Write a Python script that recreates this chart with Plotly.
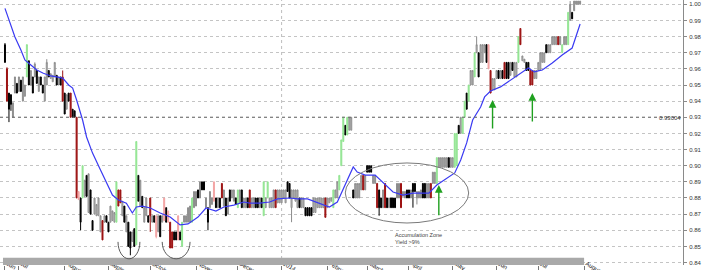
import pandas as pd
import plotly.graph_objects as go

# ---- data ----
# bar colour codes: k black, g grey, G green, r dark red, p pale red
colors = (
    "k r k k g g k g k g "
    "g G k g k g k g k k "
    "g g k g g g k g k r "
    "k g k r k k r p k G "
    "g k g k k g g g g r "
    "g k k g g g G r r g "
    "k g k k g k G k g k "
    "g g k r g k p g k g "
    "p k p r r k k p k G "
    "g g g g G g g k g k "
    "k g k g g p k g k r "
    "g k g k g g k G g k "
    "g g k r g g k k g k "
    "G g G g g g r g g g "
    "g g k k g g g g k g "
    "g k k k k g g g g g "
    "g r g g g G g g G G "
    "G k G g g k g g g g "
    "r g k k k g g r k k "
    "g r k g k k k g g r "
    "g g k k g k k g g g "
    "k k g g r g g G g g "
    "g g g k g g G G k g "
    "G G k G g g G g k g "
    "g g k p r g g g k g "
    "k r k k g k g g G r "
    "g g k k r r g g g g "
    "g g k g g g g g r g "
    "G g g G g k g g g g"
).split()

opens = [0.975, 0.960, 0.945, 0.944, 0.930, 0.945, 0.951, 0.946, 0.953, 0.940,
         0.943, 0.955, 0.965, 0.950, 0.955, 0.955, 0.959, 0.946, 0.955, 0.950,
         0.940, 0.950, 0.959, 0.954, 0.952, 0.955, 0.956, 0.950, 0.955, 0.955,
         0.945, 0.935, 0.945, 0.945, 0.935, 0.934, 0.930, 0.884, 0.880, 0.880,
         0.881, 0.894, 0.871, 0.885, 0.866, 0.870, 0.869, 0.869, 0.859, 0.866,
         0.865, 0.869, 0.865, 0.865, 0.866, 0.865, 0.865, 0.885, 0.885, 0.869,
         0.875, 0.859, 0.865, 0.859, 0.853, 0.861, 0.851, 0.894, 0.875, 0.881,
         0.865, 0.869, 0.869, 0.880, 0.865, 0.869, 0.869, 0.859, 0.869, 0.865,
         0.880, 0.874, 0.872, 0.865, 0.859, 0.859, 0.859, 0.869, 0.859, 0.850,
         0.865, 0.865, 0.865, 0.865, 0.865, 0.874, 0.875, 0.885, 0.880, 0.890,
         0.890, 0.874, 0.874, 0.874, 0.876, 0.890, 0.880, 0.874, 0.880, 0.889,
         0.875, 0.880, 0.870, 0.885, 0.880, 0.878, 0.880, 0.874, 0.877, 0.885,
         0.874, 0.874, 0.880, 0.885, 0.874, 0.874, 0.880, 0.880, 0.874, 0.880,
         0.869, 0.874, 0.880, 0.874, 0.874, 0.874, 0.885, 0.877, 0.877, 0.877,
         0.880, 0.877, 0.890, 0.889, 0.874, 0.880, 0.878, 0.874, 0.880, 0.874,
         0.874, 0.874, 0.874, 0.874, 0.874, 0.871, 0.871, 0.874, 0.874, 0.874,
         0.874, 0.880, 0.874, 0.877, 0.878, 0.874, 0.880, 0.880, 0.885, 0.900,
         0.915, 0.925, 0.919, 0.922, 0.922, 0.885, 0.880, 0.880, 0.880, 0.885,
         0.894, 0.885, 0.900, 0.900, 0.900, 0.889, 0.889, 0.889, 0.885, 0.880,
         0.874, 0.889, 0.880, 0.874, 0.880, 0.880, 0.880, 0.880, 0.880, 0.889,
         0.881, 0.880, 0.885, 0.885, 0.880, 0.889, 0.889, 0.880, 0.880, 0.880,
         0.889, 0.889, 0.880, 0.880, 0.889, 0.889, 0.889, 0.889, 0.899, 0.899,
         0.899, 0.899, 0.899, 0.905, 0.899, 0.899, 0.899, 0.900, 0.925, 0.920,
         0.920, 0.930, 0.945, 0.940, 0.950, 0.950, 0.955, 0.970, 0.970, 0.964,
         0.964, 0.970, 0.975, 0.975, 0.959, 0.947, 0.947, 0.954, 0.959, 0.954,
         0.959, 0.964, 0.964, 0.964, 0.956, 0.964, 0.955, 0.955, 0.964, 0.985,
         0.965, 0.964, 0.964, 0.964, 0.959, 0.959, 0.954, 0.954, 0.959, 0.959,
         0.964, 0.964, 0.975, 0.970, 0.970, 0.975, 0.975, 0.975, 0.980, 0.975,
         0.970, 0.975, 0.975, 0.975, 0.990, 0.995, 0.996, 1.000, 1.000, 1.000]

highs = [0.976, 0.961, 0.945, 0.944, 0.939, 0.955, 0.951, 0.955, 0.953, 0.955,
         0.950, 0.975, 0.965, 0.959, 0.955, 0.964, 0.959, 0.955, 0.955, 0.950,
         0.955, 0.966, 0.959, 0.957, 0.956, 0.964, 0.956, 0.955, 0.955, 0.959,
         0.945, 0.944, 0.945, 0.945, 0.935, 0.934, 0.930, 0.884, 0.880, 0.900,
         0.891, 0.894, 0.895, 0.885, 0.866, 0.880, 0.876, 0.880, 0.869, 0.866,
         0.869, 0.869, 0.865, 0.875, 0.872, 0.871, 0.890, 0.885, 0.885, 0.878,
         0.875, 0.869, 0.865, 0.859, 0.859, 0.861, 0.915, 0.894, 0.891, 0.881,
         0.874, 0.880, 0.869, 0.880, 0.869, 0.869, 0.869, 0.869, 0.869, 0.869,
         0.880, 0.874, 0.872, 0.865, 0.859, 0.859, 0.859, 0.869, 0.859, 0.865,
         0.869, 0.869, 0.874, 0.875, 0.880, 0.884, 0.884, 0.885, 0.890, 0.890,
         0.890, 0.880, 0.874, 0.884, 0.880, 0.890, 0.880, 0.880, 0.880, 0.889,
         0.885, 0.880, 0.880, 0.885, 0.885, 0.885, 0.880, 0.885, 0.885, 0.885,
         0.880, 0.880, 0.880, 0.885, 0.880, 0.880, 0.880, 0.880, 0.880, 0.880,
         0.890, 0.880, 0.890, 0.880, 0.880, 0.885, 0.885, 0.885, 0.885, 0.885,
         0.885, 0.885, 0.890, 0.889, 0.885, 0.885, 0.885, 0.885, 0.880, 0.880,
         0.880, 0.874, 0.874, 0.874, 0.874, 0.880, 0.880, 0.880, 0.880, 0.880,
         0.880, 0.880, 0.880, 0.880, 0.880, 0.885, 0.885, 0.890, 0.894, 0.916,
         0.930, 0.925, 0.930, 0.930, 0.930, 0.885, 0.889, 0.889, 0.889, 0.894,
         0.894, 0.894, 0.900, 0.900, 0.900, 0.894, 0.894, 0.889, 0.885, 0.880,
         0.885, 0.889, 0.880, 0.880, 0.880, 0.880, 0.880, 0.889, 0.889, 0.889,
         0.884, 0.884, 0.885, 0.885, 0.885, 0.889, 0.889, 0.884, 0.884, 0.885,
         0.889, 0.889, 0.889, 0.889, 0.889, 0.896, 0.896, 0.905, 0.905, 0.905,
         0.905, 0.905, 0.905, 0.905, 0.905, 0.905, 0.920, 0.920, 0.925, 0.930,
         0.930, 0.940, 0.945, 0.950, 0.959, 0.959, 0.970, 0.980, 0.970, 0.975,
         0.975, 0.975, 0.975, 0.975, 0.959, 0.954, 0.954, 0.959, 0.959, 0.959,
         0.959, 0.964, 0.964, 0.964, 0.964, 0.964, 0.964, 0.964, 0.980, 0.985,
         0.968, 0.966, 0.964, 0.964, 0.959, 0.959, 0.959, 0.959, 0.964, 0.970,
         0.970, 0.970, 0.975, 0.975, 0.975, 0.980, 0.980, 0.980, 0.980, 0.980,
         0.975, 0.980, 0.980, 0.995, 1.002, 0.995, 1.002, 1.002, 1.002, 1.002]

lows = [0.964, 0.940, 0.927, 0.934, 0.930, 0.945, 0.945, 0.946, 0.946, 0.940,
        0.943, 0.955, 0.950, 0.950, 0.945, 0.955, 0.951, 0.946, 0.950, 0.945,
        0.940, 0.950, 0.955, 0.954, 0.952, 0.955, 0.950, 0.950, 0.950, 0.940,
        0.932, 0.935, 0.940, 0.930, 0.930, 0.930, 0.880, 0.879, 0.860, 0.880,
        0.881, 0.881, 0.871, 0.870, 0.860, 0.870, 0.869, 0.869, 0.859, 0.854,
        0.865, 0.865, 0.859, 0.865, 0.866, 0.865, 0.865, 0.875, 0.877, 0.869,
        0.865, 0.859, 0.850, 0.8445, 0.853, 0.850, 0.851, 0.878, 0.875, 0.874,
        0.865, 0.869, 0.865, 0.859, 0.865, 0.865, 0.855, 0.859, 0.856, 0.865,
        0.866, 0.865, 0.865, 0.849, 0.849, 0.854, 0.854, 0.854, 0.854, 0.850,
        0.865, 0.865, 0.865, 0.865, 0.865, 0.874, 0.875, 0.880, 0.880, 0.885,
        0.885, 0.874, 0.860, 0.874, 0.876, 0.878, 0.874, 0.874, 0.874, 0.880,
        0.875, 0.869, 0.870, 0.878, 0.880, 0.878, 0.876, 0.874, 0.877, 0.874,
        0.874, 0.874, 0.874, 0.874, 0.874, 0.874, 0.874, 0.874, 0.874, 0.874,
        0.869, 0.874, 0.880, 0.874, 0.874, 0.874, 0.874, 0.877, 0.877, 0.877,
        0.880, 0.877, 0.884, 0.880, 0.865, 0.880, 0.878, 0.874, 0.874, 0.874,
        0.874, 0.869, 0.869, 0.869, 0.869, 0.871, 0.871, 0.874, 0.874, 0.874,
        0.874, 0.868, 0.874, 0.877, 0.878, 0.874, 0.880, 0.880, 0.885, 0.900,
        0.915, 0.919, 0.919, 0.922, 0.922, 0.880, 0.880, 0.880, 0.880, 0.885,
        0.885, 0.885, 0.896, 0.896, 0.896, 0.889, 0.889, 0.874, 0.869, 0.874,
        0.874, 0.874, 0.874, 0.874, 0.874, 0.874, 0.874, 0.880, 0.880, 0.874,
        0.881, 0.880, 0.880, 0.880, 0.880, 0.874, 0.884, 0.876, 0.880, 0.880,
        0.880, 0.880, 0.880, 0.880, 0.880, 0.889, 0.889, 0.889, 0.899, 0.899,
        0.899, 0.899, 0.899, 0.899, 0.899, 0.899, 0.899, 0.900, 0.920, 0.920,
        0.920, 0.930, 0.935, 0.940, 0.950, 0.950, 0.955, 0.970, 0.955, 0.964,
        0.964, 0.970, 0.964, 0.960, 0.945, 0.947, 0.947, 0.954, 0.954, 0.954,
        0.954, 0.954, 0.954, 0.954, 0.956, 0.959, 0.955, 0.955, 0.964, 0.975,
        0.965, 0.964, 0.959, 0.959, 0.950, 0.950, 0.954, 0.954, 0.959, 0.959,
        0.964, 0.964, 0.970, 0.970, 0.970, 0.975, 0.975, 0.975, 0.975, 0.975,
        0.970, 0.975, 0.975, 0.975, 0.990, 0.991, 0.996, 1.000, 1.000, 1.000]

closes = [0.964, 0.940, 0.935, 0.938, 0.939, 0.955, 0.945, 0.955, 0.946, 0.955,
          0.950, 0.975, 0.950, 0.959, 0.945, 0.963, 0.951, 0.955, 0.950, 0.945,
          0.955, 0.964, 0.955, 0.957, 0.956, 0.964, 0.950, 0.955, 0.950, 0.940,
          0.932, 0.944, 0.940, 0.930, 0.930, 0.930, 0.880, 0.879, 0.865, 0.900,
          0.891, 0.881, 0.895, 0.870, 0.860, 0.880, 0.876, 0.880, 0.869, 0.854,
          0.869, 0.865, 0.859, 0.875, 0.872, 0.871, 0.890, 0.875, 0.877, 0.878,
          0.865, 0.869, 0.850, 0.849, 0.859, 0.850, 0.915, 0.878, 0.891, 0.874,
          0.874, 0.880, 0.865, 0.869, 0.869, 0.865, 0.856, 0.869, 0.856, 0.869,
          0.866, 0.865, 0.865, 0.849, 0.849, 0.854, 0.854, 0.854, 0.854, 0.865,
          0.869, 0.869, 0.874, 0.875, 0.880, 0.884, 0.884, 0.880, 0.890, 0.885,
          0.885, 0.880, 0.865, 0.884, 0.880, 0.878, 0.874, 0.880, 0.874, 0.880,
          0.885, 0.869, 0.880, 0.878, 0.885, 0.885, 0.876, 0.885, 0.885, 0.874,
          0.880, 0.880, 0.874, 0.874, 0.880, 0.880, 0.874, 0.874, 0.880, 0.874,
          0.890, 0.880, 0.890, 0.880, 0.880, 0.885, 0.874, 0.885, 0.885, 0.885,
          0.885, 0.885, 0.884, 0.880, 0.885, 0.885, 0.885, 0.885, 0.874, 0.880,
          0.880, 0.869, 0.869, 0.869, 0.869, 0.880, 0.880, 0.880, 0.880, 0.880,
          0.880, 0.868, 0.880, 0.880, 0.880, 0.885, 0.885, 0.890, 0.894, 0.916,
          0.930, 0.919, 0.930, 0.930, 0.930, 0.880, 0.889, 0.889, 0.889, 0.894,
          0.885, 0.894, 0.896, 0.896, 0.896, 0.894, 0.894, 0.874, 0.874, 0.874,
          0.885, 0.874, 0.874, 0.880, 0.874, 0.874, 0.874, 0.889, 0.889, 0.874,
          0.884, 0.884, 0.880, 0.880, 0.885, 0.884, 0.884, 0.884, 0.884, 0.885,
          0.880, 0.880, 0.889, 0.889, 0.880, 0.896, 0.896, 0.905, 0.905, 0.905,
          0.905, 0.905, 0.905, 0.899, 0.905, 0.905, 0.920, 0.920, 0.920, 0.930,
          0.930, 0.940, 0.935, 0.950, 0.959, 0.959, 0.970, 0.975, 0.955, 0.975,
          0.975, 0.975, 0.964, 0.960, 0.945, 0.954, 0.954, 0.959, 0.954, 0.959,
          0.954, 0.954, 0.954, 0.954, 0.964, 0.959, 0.964, 0.964, 0.980, 0.975,
          0.968, 0.966, 0.959, 0.959, 0.950, 0.950, 0.959, 0.959, 0.964, 0.970,
          0.970, 0.970, 0.970, 0.975, 0.975, 0.980, 0.980, 0.980, 0.975, 0.980,
          0.975, 0.980, 0.980, 0.995, 1.000, 0.991, 1.002, 1.002, 1.002, 1.002]

# moving average, read at sample bars
ma_x = [0, 2, 5, 8, 10, 13, 16, 19, 23, 26, 29, 32, 34, 36, 39, 41, 44, 48, 51, 54,
        57, 60, 61, 64, 66, 69, 73, 78, 83, 88, 92, 97, 101, 106, 110, 115, 120, 123, 128, 133,
        137, 143, 147, 152, 158, 163, 167, 172, 175, 177, 181, 186, 190, 195, 200, 205, 210, 213, 217, 222,
        226, 229, 232, 235, 239, 241, 244, 249, 254, 259, 263, 266, 270, 275, 280, 285, 287, 289]
ma_y = [0.9975, 0.9903, 0.9797, 0.9717, 0.9655, 0.9624, 0.9593, 0.9574, 0.9556, 0.9550,
        0.9543, 0.9500, 0.9481, 0.9407, 0.9283, 0.9178, 0.9078, 0.8973, 0.8893, 0.8818,
        0.8787, 0.8775, 0.8768, 0.8707, 0.8744, 0.8750, 0.8738, 0.8707, 0.8682, 0.8633,
        0.8639, 0.8682, 0.8738, 0.8719, 0.8744, 0.8756, 0.8775, 0.8768, 0.8768, 0.8775,
        0.8794, 0.8800, 0.8794, 0.8794, 0.8768, 0.8744, 0.8775, 0.8911, 0.8992, 0.8961,
        0.8942, 0.8942, 0.8893, 0.8837, 0.8818, 0.8830, 0.8830, 0.8830, 0.8880, 0.8924,
        0.8955, 0.9035, 0.9141, 0.9283, 0.9364, 0.9426, 0.9463, 0.9488, 0.9531, 0.9574,
        0.9605, 0.9581, 0.9593, 0.9636, 0.9686, 0.9729, 0.9810, 0.9878]

month_labels = ["Jun", "Jul", "August", "September", "October", "November", "December",
                "2014", "February", "March", "April", "May", "Jun", "Jul", "August"]

support_level = 0.93004
support_label = "0.93004"
zone_text = "Accumulation Zone<br>Yield >9%"

# ---- trading-day calendar (weekday slots) ----
calendar = pd.bdate_range("2013-06-20", "2014-08-01")
n = len(opens)
idx = list(range(n))

month_starts = []
prev = None
for k, d in enumerate(calendar):
    if (d.year, d.month) != prev:
        month_starts.append(k)
        prev = (d.year, d.month)

fig = go.Figure()

styles = {
    "g": ("#d2d2d2", "#8c8c8c"),
    "k": ("#000000", "#000000"),
    "G": ("#93e593", "#93e593"),
    "r": ("#9c1212", "#9c1212"),
    "p": ("#f3a3a3", "#f3a3a3"),
}
for code, (fill, line) in styles.items():
    sel = [k for k in idx if colors[k] == code]
    fig.add_trace(go.Candlestick(
        x=sel,
        open=[opens[k] for k in sel], high=[highs[k] for k in sel],
        low=[lows[k] for k in sel], close=[closes[k] for k in sel],
        increasing=dict(fillcolor=fill, line=dict(color=line, width=1)),
        decreasing=dict(fillcolor=fill, line=dict(color=line, width=1)),
        whiskerwidth=0, showlegend=False, hoverinfo="skip",
    ))

fig.add_trace(go.Scatter(x=ma_x, y=ma_y, mode="lines",
                         line=dict(color="#3a3af2", width=1.2),
                         showlegend=False, hoverinfo="skip"))


def lower_arc(xc, rx, yc, ry):
    k = 0.5523
    return (f"M {xc - rx},{yc} C {xc - rx},{yc - k * ry} {xc - k * rx},{yc - ry} {xc},{yc - ry} "
            f"C {xc + k * rx},{yc - ry} {xc + rx},{yc - k * ry} {xc + rx},{yc}")


shapes = [
    dict(type="line", xref="x", yref="paper", x0=month_starts[7], x1=month_starts[7], y0=0, y1=1,
         line=dict(color="#bdbdbd", width=1, dash="dot"), layer="below"),
    dict(type="line", xref="paper", yref="y", x0=0, x1=1, y0=support_level, y1=support_level,
         line=dict(color="#6a6a6a", width=1, dash="dot")),
    dict(type="rect", xref="x", yref="paper", x0=-1, x1=len(calendar) - 1, y0=0, y1=0.0275,
         fillcolor="#a9a9a9", line=dict(width=0)),
    dict(type="circle", xref="x", yref="y", x0=171, x1=233, y0=0.8645, y1=0.9017,
         line=dict(color="#7a7a7a", width=1)),
    dict(type="path", xref="x", yref="y", path=lower_arc(62.3, 5.5, 0.8528, 0.0105),
         line=dict(color="#5a5a5a", width=1)),
    dict(type="path", xref="x", yref="y", path=lower_arc(86, 7, 0.8528, 0.0105),
         line=dict(color="#5a5a5a", width=1)),
]

annotations = [
    dict(xref="paper", yref="y", x=1, y=support_level, text=support_label, showarrow=False,
         xanchor="right", yanchor="middle", yshift=-1, font=dict(size=6, color="#333")),
    dict(xref="x", yref="y", x=195, y=0.8600, text=zone_text, showarrow=False, align="left",
         xanchor="left", yanchor="top", font=dict(size=5.5, color="#444")),
]
for (ax_, ay_, ty) in [(218, 0.8683, 0.8880), (245, 0.9221, 0.9407), (265, 0.9264, 0.9450)]:
    annotations.append(dict(xref="x", yref="y", axref="x", ayref="y", x=ax_, y=ty, ax=ax_, ay=ay_,
                            text="", showarrow=True, arrowhead=2, arrowsize=1.1, arrowwidth=1.4,
                            arrowcolor="#1fa01f", standoff=0))

fig.update_layout(
    width=710, height=270,
    margin=dict(l=0, r=27, t=0, b=5, autoexpand=False),
    paper_bgcolor="white", plot_bgcolor="white",
    font=dict(family="Liberation Sans, Arial, sans-serif", size=6, color="#333"),
    shapes=shapes, annotations=annotations,
    showlegend=False,
    xaxis=dict(range=[-2.5, 340.7], rangeslider=dict(visible=False), showgrid=False,
               zeroline=False, tickmode="array", tickvals=month_starts, ticktext=month_labels,
               ticks="outside", ticklen=5, tickcolor="#777", tickwidth=1,
               ticklabelposition="outside right", ticklabelstandoff=-8, ticklabelshift=2,
               tickfont=dict(size=6, color="#222"), showline=False, automargin=False),
    yaxis=dict(side="right", range=[0.83848, 1.00266], tick0=0.84, dtick=0.01, tickformat=".2f",
               showgrid=True, gridcolor="#c4c4c4", griddash="dot", gridwidth=1, zeroline=False,
               showline=True, linecolor="#8a8a8a", linewidth=1, ticks="outside", ticklen=3,
               ticklabelstandoff=1,
               tickcolor="#8a8a8a", tickfont=dict(size=6, color="#333"), automargin=False),
)

fig.write_html("out.html")
